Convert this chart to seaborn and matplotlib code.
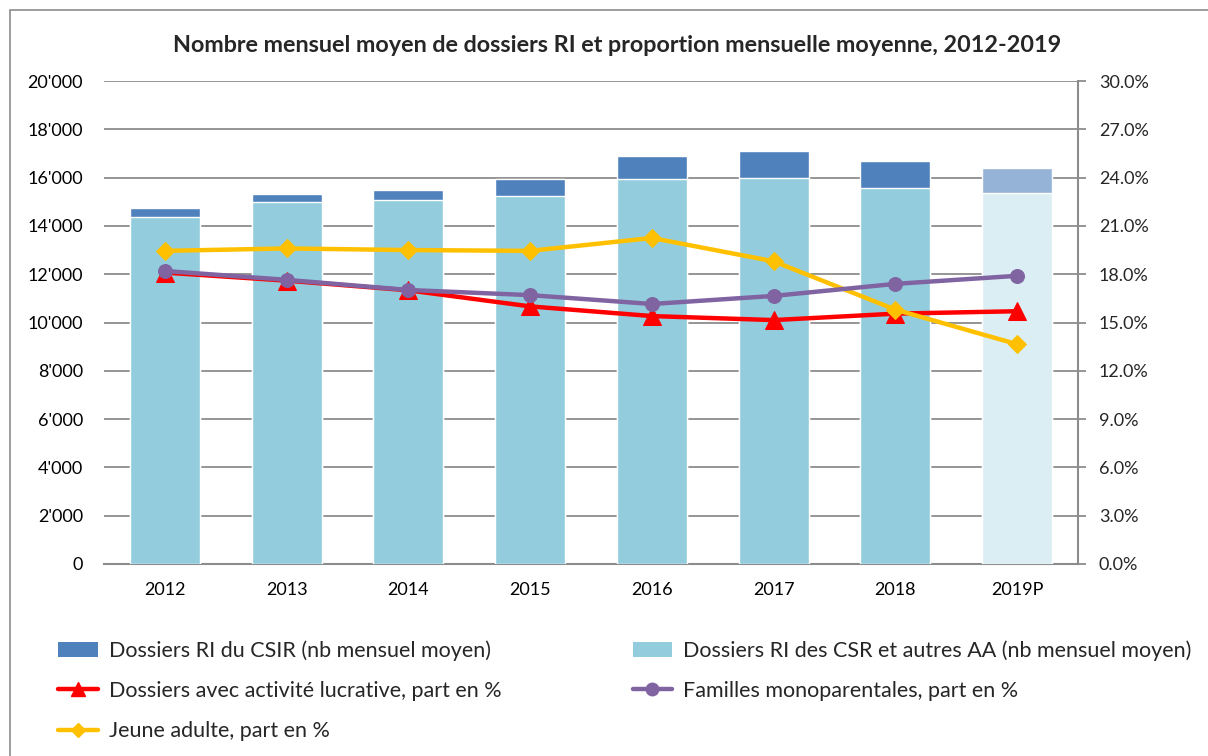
import numpy as np
import pandas as pd
import matplotlib
matplotlib.use("Agg")
import matplotlib.pyplot as plt
import seaborn as sns
from matplotlib.ticker import FuncFormatter, MultipleLocator
from matplotlib.patches import Rectangle, Patch
from matplotlib.lines import Line2D

years = ["2012", "2013", "2014", "2015", "2016", "2017", "2018", "2019P"]
csr_autres = [14370, 14990, 15070, 15250, 15940, 16000, 15570, 15370]
csir = [370, 330, 420, 690, 950, 1100, 1120, 1030]
activite = [18.1, 17.6, 17.0, 16.0, 15.4, 15.15, 15.55, 15.7]
monoparent = [18.2, 17.65, 17.02, 16.7, 16.15, 16.65, 17.4, 17.9]
jeune = [19.45, 19.6, 19.5, 19.45, 20.25, 18.8, 15.8, 13.65]

lab_csir = "Dossiers RI du CSIR (nb mensuel moyen)"
lab_csr = "Dossiers RI des CSR et autres AA (nb mensuel moyen)"
lab_act = "Dossiers avec activité lucrative, part en %"
lab_mono = "Familles monoparentales, part en %"
lab_jeune = "Jeune adulte, part en %"

sns.set_style("white")
plt.rcParams["font.family"] = ["Lato", "DejaVu Sans"]

df = pd.DataFrame({"year": years, "csr": csr_autres, "csir": csir})
df["total"] = df["csr"] + df["csir"]

fig = plt.figure(figsize=(12.08, 7.56), dpi=100)
ax = fig.add_axes([104 / 1208, 1 - 564 / 756, (1078 - 104) / 1208, (564 - 81) / 756])

dark_cols = ["#4F81BD"] * 7 + ["#95B3D7"]
light_cols = ["#93CDDD"] * 7 + ["#DBEEF4"]

sns.barplot(data=df, x="year", y="total", hue="year", palette=dark_cols,
            legend=False, width=0.574, ax=ax, saturation=1, zorder=2)
sns.barplot(data=df, x="year", y="csr", hue="year", palette=light_cols,
            legend=False, width=0.574, ax=ax, saturation=1, zorder=3)

ax.set_ylim(0, 20000)
ax.set_xlim(-0.5, 7.5)
ax.yaxis.set_major_locator(MultipleLocator(2000))
ax.yaxis.set_major_formatter(FuncFormatter(lambda v, p: "0" if v == 0 else f"{int(v):,}".replace(",", "'")))
ax.set_xlabel("")
ax.set_ylabel("")
ax.grid(axis="y", color="#8C8C8C", linewidth=1.3, zorder=0)
ax.set_axisbelow(True)
for s in ["top", "left", "right"]:
    ax.spines[s].set_visible(False)
ax.spines["bottom"].set_color("#8C8C8C")
ax.spines["bottom"].set_linewidth(1.5)
ax.tick_params(axis="both", length=0, labelsize=13, colors="black")
ax.tick_params(axis="y", pad=15)
ax.tick_params(axis="x", pad=13)

ax2 = ax.twinx()
x = np.arange(len(years))
sns.lineplot(x=x, y=activite, ax=ax2, color="#FF0000", linewidth=3.2,
             marker="^", markersize=13, markeredgecolor="#FF0000", zorder=4)
sns.lineplot(x=x, y=jeune, ax=ax2, color="#FFC000", linewidth=3.2,
             marker="D", markersize=9, markeredgecolor="#FFC000", zorder=5)
sns.lineplot(x=x, y=monoparent, ax=ax2, color="#8064A2", linewidth=3.2,
             marker="o", markersize=10, markeredgecolor="#8064A2", zorder=6)
ax2.set_ylim(0, 30)
ax2.set_xlim(-0.5, 7.5)
ax2.yaxis.set_major_locator(MultipleLocator(3))
ax2.yaxis.set_major_formatter(FuncFormatter(lambda v, p: f"{v:.1f}%"))
for s in ["top", "left", "bottom"]:
    ax2.spines[s].set_visible(False)
ax2.spines["right"].set_color("#8C8C8C")
ax2.spines["right"].set_linewidth(1.5)
ax2.tick_params(axis="y", length=6, width=1.3, color="#8C8C8C", labelsize=13, pad=9)
ax2.set_xlabel("")
ax2.set_ylabel("")

fig.text(617 / 1208, 1 - 45 / 756, "Nombre mensuel moyen de dossiers RI et proportion mensuelle moyenne, 2012-2019",
         ha="center", va="center", fontsize=16.8, fontweight="bold")

handles = [
    Patch(facecolor="#4F81BD", edgecolor="none"),
    Line2D([], [], color="#FF0000", linewidth=3.2, marker="^", markersize=10),
    Line2D([], [], color="#FFC000", linewidth=3.2, marker="D", markersize=7),
    Patch(facecolor="#93CDDD", edgecolor="none"),
    Line2D([], [], color="#8064A2", linewidth=3.2, marker="o", markersize=9),
]
labels = [lab_csir, lab_act, lab_jeune, lab_csr, lab_mono]
fig.legend(handles, labels, loc="upper left", bbox_to_anchor=(58 / 1208, 1 - 640 / 756),
           ncol=2, frameon=False, fontsize=15.5, handlelength=1.85, handleheight=0.7,
           columnspacing=6.1, labelspacing=0.94, handletextpad=0.5,
           borderpad=0, borderaxespad=0)

fig.patches.append(Rectangle((10 / 1208, -0.2), 1.5, 1.2 - 10 / 756,
                             transform=fig.transFigure, fill=False,
                             edgecolor="#8C8C8C", linewidth=1.2))

fig.savefig("out.png", dpi=100)
